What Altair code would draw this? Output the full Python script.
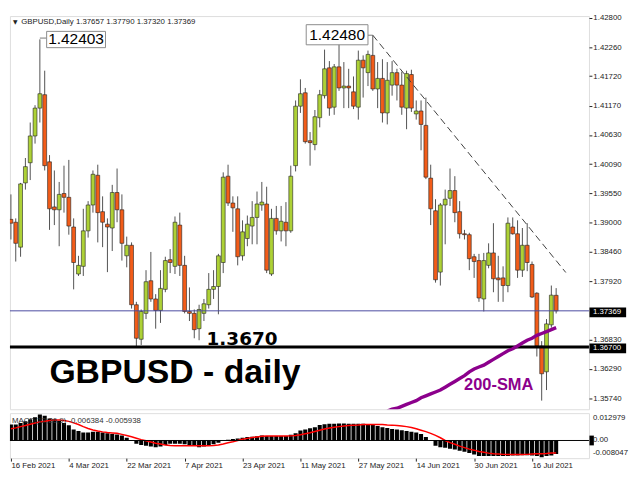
import altair as alt
import pandas as pd

# ---------------- data ----------------
opens = [
    1.39065, 1.39012, 1.38550, 1.39741, 1.40115, 1.40612, 1.41128, 1.41377, 1.40132, 1.39296,
    1.39243, 1.39545, 1.39474, 1.38923, 1.38052, 1.38194, 1.38852, 1.39332, 1.39883, 1.39208,
    1.38976, 1.38905, 1.39563, 1.39243, 1.38389, 1.38585, 1.37482, 1.36842, 1.37322, 1.37927,
    1.37589, 1.37376, 1.37767, 1.38318, 1.38194, 1.38959, 1.38212, 1.37358, 1.37322, 1.37038,
    1.37322, 1.37482, 1.37767, 1.37820, 1.38265, 1.39866, 1.39368, 1.39261, 1.38389, 1.38710,
    1.38941, 1.39101, 1.39332, 1.39350, 1.38052, 1.39083, 1.38852, 1.39012, 1.38852, 1.40061,
    1.41164, 1.41413, 1.40524, 1.40452, 1.40950, 1.41359, 1.41875, 1.41146, 1.41893, 1.41502,
    1.41537, 1.41430, 1.41146, 1.42017, 1.41786, 1.42106, 1.41484, 1.41679, 1.41039, 1.41555,
    1.41786, 1.41555, 1.41128, 1.41751, 1.41021, 1.41075, 1.40808, 1.39830, 1.39225, 1.38087,
    1.39332, 1.39456, 1.39599, 1.39208, 1.38798, 1.38781, 1.38372, 1.38301, 1.37589, 1.38212,
    1.38443, 1.37980, 1.37980, 1.37838, 1.38923, 1.38798, 1.38123, 1.38585, 1.38229, 1.37696,
    1.36718, 1.36238, 1.37109, 1.37657]
highs = [
    1.39528, 1.39083, 1.39741, 1.40203, 1.40861, 1.41182, 1.42403, 1.41822, 1.40257, 1.39972,
    1.39759, 1.40061, 1.40168, 1.39083, 1.38389, 1.39261, 1.39403, 1.39972, 1.40079, 1.39492,
    1.39083, 1.39705, 1.40008, 1.39528, 1.38745, 1.38638, 1.37536, 1.37394, 1.38123, 1.38461,
    1.37678, 1.38123, 1.38372, 1.38514, 1.39119, 1.39190, 1.38389, 1.37803, 1.37394, 1.37482,
    1.37589, 1.38069, 1.38123, 1.38425, 1.39937, 1.40079, 1.39492, 1.39492, 1.39047, 1.39136,
    1.39403, 1.39581, 1.39759, 1.39670, 1.39261, 1.39314, 1.39314, 1.39385, 1.40061, 1.41270,
    1.41662, 1.41502, 1.40684, 1.41093, 1.41466, 1.42213, 1.42000, 1.41946, 1.42320, 1.41982,
    1.41857, 1.41715, 1.42195, 1.42106, 1.42195, 1.42480, 1.41982, 1.42035, 1.41982, 1.42000,
    1.41857, 1.41804, 1.41822, 1.41840, 1.41270, 1.41270, 1.41324, 1.40079, 1.39439, 1.39368,
    1.39617, 1.40008, 1.39866, 1.39403, 1.38870, 1.38816, 1.38425, 1.38425, 1.38443, 1.38621,
    1.38994, 1.38389, 1.38194, 1.39101, 1.39101, 1.39047, 1.38905, 1.38994, 1.38283, 1.37714,
    1.36807, 1.37216, 1.37838, 1.37790]
lows = [
    1.38692, 1.38283, 1.38372, 1.39617, 1.39794, 1.40470, 1.40861, 1.39972, 1.38870, 1.38959,
    1.38567, 1.39190, 1.38781, 1.37767, 1.38016, 1.38016, 1.38727, 1.39190, 1.38638, 1.38550,
    1.38087, 1.38478, 1.39012, 1.38301, 1.38176, 1.37411, 1.36700, 1.36736, 1.37216, 1.37536,
    1.37038, 1.37145, 1.37714, 1.38069, 1.38052, 1.38016, 1.37322, 1.37180, 1.36860, 1.36824,
    1.37180, 1.37411, 1.37589, 1.37305, 1.38069, 1.39314, 1.38834, 1.38212, 1.38301, 1.38567,
    1.38603, 1.38603, 1.39225, 1.38069, 1.38016, 1.38781, 1.38656, 1.38567, 1.38816, 1.39954,
    1.41039, 1.40470, 1.40061, 1.40346, 1.40772, 1.41306, 1.40986, 1.41004, 1.41448, 1.41128,
    1.41128, 1.41110, 1.40915, 1.41324, 1.41537, 1.41448, 1.41128, 1.40861, 1.40826, 1.41359,
    1.41270, 1.41004, 1.40737, 1.41057, 1.40915, 1.40346, 1.39812, 1.38959, 1.37892, 1.37838,
    1.38603, 1.39314, 1.39012, 1.38710, 1.38692, 1.38123, 1.37980, 1.37536, 1.37358, 1.38158,
    1.37714, 1.37536, 1.37536, 1.37714, 1.38781, 1.37980, 1.37998, 1.38105, 1.37607, 1.36522,
    1.35704, 1.35900, 1.37056, 1.37320]
closes = [
    1.38994, 1.38621, 1.39723, 1.40043, 1.40612, 1.41128, 1.41395, 1.40061, 1.39261, 1.39243,
    1.39528, 1.39474, 1.38941, 1.38265, 1.38212, 1.38852, 1.39332, 1.39901, 1.39190, 1.39012,
    1.38923, 1.39563, 1.39243, 1.38621, 1.38585, 1.37482, 1.36860, 1.37358, 1.37909, 1.37589,
    1.37376, 1.37785, 1.38301, 1.38265, 1.39012, 1.38212, 1.37358, 1.37322, 1.37020, 1.37394,
    1.37500, 1.37767, 1.37820, 1.38389, 1.39848, 1.39368, 1.39279, 1.38372, 1.38834, 1.38976,
    1.39101, 1.39350, 1.39385, 1.38123, 1.39083, 1.38852, 1.39030, 1.38852, 1.39866, 1.41164,
    1.41395, 1.40506, 1.40488, 1.40968, 1.41377, 1.41857, 1.41128, 1.41893, 1.41502, 1.41537,
    1.41502, 1.41164, 1.42017, 1.41875, 1.42124, 1.41484, 1.41679, 1.41039, 1.41644, 1.41786,
    1.41555, 1.41146, 1.41768, 1.41128, 1.41075, 1.40826, 1.39848, 1.39261, 1.37945, 1.39332,
    1.39439, 1.39599, 1.39190, 1.38798, 1.38781, 1.38336, 1.38283, 1.37607, 1.38301, 1.38443,
    1.37963, 1.37945, 1.37838, 1.38994, 1.38798, 1.38123, 1.38585, 1.38265, 1.37625, 1.36718,
    1.36202, 1.37127, 1.37660, 1.37369]

sma_first_bar = 78
sma_values = [
    1.35509, 1.35544, 1.35562, 1.35598, 1.35633, 1.35669, 1.35704, 1.35757, 1.35793, 1.35828,
    1.35864, 1.35900, 1.35953, 1.36006, 1.36060, 1.36113, 1.36166, 1.36238, 1.36291, 1.36327,
    1.36362, 1.36416, 1.36469, 1.36522, 1.36576, 1.36629, 1.36665, 1.36718, 1.36771, 1.36824,
    1.36860, 1.36914, 1.36949, 1.36985, 1.37020, 1.37056]

macd_main = [
    0.0076, 0.0076, 0.0083, 0.0091, 0.0101, 0.0111, 0.0124, 0.0118, 0.0105, 0.0101,
    0.0094, 0.0083, 0.0073, 0.0052, 0.0045, 0.0038, 0.0038, 0.0041, 0.0041, 0.0038,
    0.0035, 0.0031, 0.0028, 0.0024, 0.0013, -0.0002, -0.0015, -0.0021, -0.0025, -0.0029,
    -0.0032, -0.0029, -0.0021, -0.0015, -0.0015, -0.0015, -0.0018, -0.0021, -0.0025, -0.0032,
    -0.0029, -0.0025, -0.0018, -0.0011, -0.0001, 0.0003, 0.0007, 0.0010, 0.0013, 0.0017,
    0.0018, 0.0020, 0.0024, 0.0021, 0.0021, 0.0021, 0.0021, 0.0021, 0.0027, 0.0035,
    0.0047, 0.0052, 0.0058, 0.0063, 0.0074, 0.0077, 0.0080, 0.0080, 0.0081, 0.0081,
    0.0080, 0.0080, 0.0080, 0.0080, 0.0078, 0.0077, 0.0069, 0.0063, 0.0059, 0.0055,
    0.0052, 0.0049, 0.0045, 0.0041, 0.0038, 0.0031, 0.0017, -0.0001, -0.0025, -0.0032,
    -0.0035, -0.0039, -0.0043, -0.0049, -0.0053, -0.0060, -0.0067, -0.0074, -0.0074, -0.0074,
    -0.0074, -0.0074, -0.0074, -0.0074, -0.0071, -0.0071, -0.0070, -0.0070, -0.0071, -0.0074,
    -0.0080, -0.0074, -0.0071, -0.0064]
macd_signal = [
    0.0056, 0.0060, 0.0066, 0.0071, 0.0077, 0.0083, 0.0088, 0.0092, 0.0095, 0.0097,
    0.0097, 0.0095, 0.0091, 0.0084, 0.0076, 0.0066, 0.0057, 0.0050, 0.0045, 0.0041,
    0.0038, 0.0036, 0.0034, 0.0029, 0.0024, 0.0018, 0.0011, 0.0004, -0.0001, -0.0007,
    -0.0013, -0.0017, -0.0021, -0.0024, -0.0025, -0.0025, -0.0025, -0.0025, -0.0025, -0.0025,
    -0.0025, -0.0025, -0.0024, -0.0021, -0.0017, -0.0011, -0.0006, 0.0000, 0.0006, 0.0010,
    0.0014, 0.0017, 0.0020, 0.0021, 0.0021, 0.0021, 0.0021, 0.0021, 0.0022, 0.0024,
    0.0027, 0.0032, 0.0037, 0.0043, 0.0049, 0.0055, 0.0059, 0.0063, 0.0066, 0.0069,
    0.0071, 0.0073, 0.0074, 0.0076, 0.0076, 0.0076, 0.0076, 0.0076, 0.0074, 0.0073,
    0.0071, 0.0069, 0.0066, 0.0062, 0.0056, 0.0049, 0.0042, 0.0034, 0.0024, 0.0013,
    0.0000, -0.0010, -0.0018, -0.0027, -0.0034, -0.0041, -0.0046, -0.0052, -0.0056, -0.0060,
    -0.0063, -0.0064, -0.0066, -0.0067, -0.0067, -0.0067, -0.0067, -0.0066, -0.0064, -0.0063,
    -0.0063, -0.0062, -0.0060, -0.0059]

date_tick_bars = [0, 12, 24, 36, 48, 60, 72, 84, 96, 108]
date_tick_labels = ["16 Feb 2021", "4 Mar 2021", "22 Mar 2021", "7 Apr 2021", "23 Apr 2021",
                    "11 May 2021", "27 May 2021", "14 Jun 2021", "30 Jun 2021", "16 Jul 2021"]
price_ticks = [1.42800, 1.42260, 1.41720, 1.41170, 1.40630, 1.40090, 1.39550, 1.39000,
               1.38460, 1.37920, 1.36830, 1.36290, 1.35740]
current_price = 1.37369
support_level = 1.36700
peak_labels = ["1.42403", "1.42480"]
peak_bars = [6, 75]
peak_prices = [1.42403, 1.42480]
trend_bars = [75, 115]
trend_prices = [1.42480, 1.38080]
macd_scale_labels = ["0.012979", "0.00", "-0.008047"]
macd_scale_values = [0.012979, 0.0, -0.008047]
header_text = "GBPUSD,Daily  1.37657 1.37790 1.37320 1.37369"
macd_header_text = "MACD(12,26,9) -0.006384 -0.005938"

# ---------------- layout / style ----------------
W, HM, HD = 592, 402, 46
FONT = "Liberation Sans"
xs = alt.Scale(domain=[-0.2, 119.8], nice=False, zero=False)
ys = alt.Scale(domain=[1.35544, 1.42835], nice=False, zero=False)
ms = alt.Scale(domain=[-0.0084, 0.0130], nice=False, zero=False)
UP, DOWN = "#ADD136", "#F25C19"
PURPLE = "#8C008C"

n = len(opens)
candles = pd.DataFrame({"i": list(range(n)), "open": opens, "high": highs,
                        "low": lows, "close": closes})
candles["dir"] = ["up" if c >= o else "down" for o, c in zip(opens, closes)]
candles["x1"] = candles["i"] - 0.4
candles["x2"] = candles["i"] + 0.4

sma_df = pd.DataFrame({"i": [sma_first_bar + k for k in range(len(sma_values))], "p": sma_values})
trend_df = pd.DataFrame({"i": trend_bars, "p": trend_prices})

yaxis = alt.Axis(orient="right", values=price_ticks, format=".5f", title=None, grid=False,
                 domain=False, tickSize=3, tickColor="#222", labelPadding=1,
                 labelFont=FONT, labelFontSize=8, labelColor="#222", labelOverlap=False)


def PY(field):
    return alt.Y(field, scale=ys, axis=yaxis, title=None)


def PX(field):
    return alt.X(field, scale=xs, axis=None, title=None)


wick = alt.Chart(candles).mark_rule(color="#505050", strokeWidth=1, clip=True).encode(
    x=PX("i:Q"), y=PY("low:Q"), y2="high:Q")
body = alt.Chart(candles).mark_rect(stroke="#1e1e1e", strokeWidth=0.6, clip=True).encode(
    x=PX("x1:Q"), x2="x2:Q", y=PY("open:Q"), y2="close:Q",
    color=alt.Color("dir:N", scale=alt.Scale(domain=["up", "down"], range=[UP, DOWN]), legend=None))

sma_line = alt.Chart(sma_df).mark_line(color=PURPLE, strokeWidth=3.5, clip=True).encode(
    x=PX("i:Q"), y=PY("p:Q"))
trend = alt.Chart(trend_df).mark_line(color="#3c3c3c", strokeWidth=1, strokeDash=[7, 4],
                                      clip=True).encode(x=PX("i:Q"), y=PY("p:Q"))

cur_line = alt.Chart(pd.DataFrame({"p": [current_price]})).mark_rule(
    color="#4848A0", strokeWidth=1).encode(y=PY("p:Q"), x=alt.value(0), x2=alt.value(W))
sup_line = alt.Chart(pd.DataFrame({"p": [support_level]})).mark_rule(
    color="black", strokeWidth=3).encode(y=PY("p:Q"), x=alt.value(0), x2=alt.value(W))

# peak label boxes (annotation geometry)
peaks = pd.DataFrame({
    "label": peak_labels, "bar": peak_bars, "p": peak_prices,
    "bx1": [7.4, 61.2], "bx2": [19.6, 74.0],
    "by1": [1.42551, 1.42675], "by2": [1.42249, 1.42302],
    "tx": [13.5, 67.6], "ty": [1.42400, 1.42489],
    "lx1": [6.0, 74.0], "lx2": [7.4, 75.0], "ly": [1.42427, 1.42480]})
peak_box = alt.Chart(peaks).mark_rect(fill="white", stroke="#8a8a8a", strokeWidth=1).encode(
    x=PX("bx1:Q"), x2="bx2:Q", y=PY("by1:Q"), y2="by2:Q")
peak_text = alt.Chart(peaks).mark_text(font=FONT, fontSize=15.8, color="black",
                                       baseline="middle", align="center").encode(
    x=PX("tx:Q"), y=PY("ty:Q"), text="label:N")
peak_lead = alt.Chart(peaks).mark_rule(color="#777", strokeWidth=1).encode(
    x=PX("lx1:Q"), x2="lx2:Q", y=PY("ly:Q"))

big_title = alt.Chart(pd.DataFrame({"t": ["GBPUSD - daily"], "i": [34.0], "p": [1.36024]})).mark_text(
    font=FONT, fontSize=34.5, fontWeight="bold", color="black", align="center",
    baseline="alphabetic").encode(x=PX("i:Q"), y=PY("p:Q"), text="t:N")
lvl_text = alt.Chart(pd.DataFrame({"t": ["1.3670"], "i": [47.9], "p": [1.36736]})).mark_text(
    font="DejaVu Sans", fontSize=18.8, fontWeight="bold", color="black", align="center",
    baseline="alphabetic").encode(x=PX("i:Q"), y=PY("p:Q"), text="t:N")
sma_text = alt.Chart(pd.DataFrame({"t": ["200-SMA"], "i": [101.1], "p": [1.35900]})).mark_text(
    font=FONT, fontSize=16.8, fontWeight="bold", color=PURPLE, align="center",
    baseline="alphabetic").encode(x=PX("i:Q"), y=PY("p:Q"), text="t:N")

side = pd.DataFrame({"p": [current_price, support_level],
                     "t": [f"{current_price:.5f}", f"{support_level:.5f}"]})
side_box = alt.Chart(side).mark_rule(color="black", strokeWidth=10, yOffset=1.5).encode(
    y=PY("p:Q"), x=alt.value(W + 0.5), x2=alt.value(W + 38))
side_txt = alt.Chart(side).mark_text(font=FONT, fontSize=8, color="white", align="left",
                                     baseline="middle", dy=1.5).encode(
    y=PY("p:Q"), x=alt.value(W + 4), text="t:N")

hdr = pd.DataFrame({"t": [header_text]})
hdr_tri = alt.Chart(hdr).mark_text(font="DejaVu Sans", fontSize=6, color="#222", text="▼",
                                   align="left", baseline="middle").encode(
    x=alt.value(3), y=alt.value(6))
hdr_txt = alt.Chart(hdr).mark_text(font=FONT, fontSize=8, color="#222", align="left",
                                   baseline="middle").encode(
    x=alt.value(11.5), y=alt.value(6), text="t:N")

main = alt.layer(wick, body, cur_line, sup_line, sma_line, trend, peak_lead, peak_box,
                 peak_text, big_title, lvl_text, sma_text, side_box, side_txt,
                 hdr_tri, hdr_txt).properties(width=W, height=HM)

# ---------------- MACD panel ----------------
macd = pd.DataFrame({"i": list(range(n)), "m": macd_main, "s": macd_signal})
macd["zero"] = 0.0
macd["x1"] = macd["i"] - 0.42
macd["x2"] = macd["i"] + 0.42

label_expr = ("[" + ",".join(f"'{s}'" for s in date_tick_labels) + "][indexof(["
              + ",".join(str(b) for b in date_tick_bars) + "], datum.value)]")
xaxis = alt.Axis(values=date_tick_bars, labelExpr=label_expr, title=None, grid=False,
                 domain=False, tickSize=3, tickColor="#222", labelAlign="left",
                 labelPadding=1, labelFont=FONT, labelFontSize=8, labelColor="#222",
                 labelOverlap=False, labelFlush=False)


def MX(field):
    return alt.X(field, scale=xs, axis=xaxis, title=None)


def MY(field):
    return alt.Y(field, scale=ms, axis=None, title=None)


hist = alt.Chart(macd).mark_rect(color="black", clip=True).encode(
    x=MX("x1:Q"), x2="x2:Q", y=MY("m:Q"), y2="zero:Q")
sig = alt.Chart(macd).mark_line(color="#FF0000", strokeWidth=1.5, clip=True).encode(
    x=MX("i:Q"), y=MY("s:Q"))
zero_line = alt.Chart(pd.DataFrame({"v": [0.0]})).mark_rule(color="black", strokeWidth=1).encode(
    y=MY("v:Q"), x=alt.value(0), x2=alt.value(W))

mlab = pd.DataFrame({"t": macd_scale_labels, "v": macd_scale_values})
mlab_top = alt.Chart(mlab.iloc[[0]]).mark_text(font=FONT, fontSize=8, color="#222", align="left",
                                               baseline="top", dy=1).encode(
    y=MY("v:Q"), x=alt.value(W + 4), text="t:N")
mlab_mid_box = alt.Chart(mlab.iloc[[1]]).mark_rule(color="black", strokeWidth=10).encode(
    y=MY("v:Q"), x=alt.value(W + 0.5), x2=alt.value(W + 5))
mlab_mid = alt.Chart(mlab.iloc[[1]]).mark_text(font=FONT, fontSize=8, color="#222", align="left",
                                               baseline="middle").encode(
    y=MY("v:Q"), x=alt.value(W + 4), text="t:N")
mlab_bot = alt.Chart(mlab.iloc[[2]]).mark_text(font=FONT, fontSize=8, color="#222", align="left",
                                               baseline="bottom").encode(
    y=MY("v:Q"), x=alt.value(W + 4), text="t:N")
macd_hdr = alt.Chart(pd.DataFrame({"t": [macd_header_text]})).mark_text(
    font=FONT, fontSize=8, color="#333", align="left", baseline="middle").encode(
    x=alt.value(2), y=alt.value(8), text="t:N")

macd_panel = alt.layer(hist, sig, zero_line, macd_hdr, mlab_top, mlab_mid_box, mlab_mid,
                       mlab_bot).properties(width=W, height=HD)

chart = alt.vconcat(main, macd_panel, spacing=2).properties(
    padding={"left": 0, "top": 0, "right": 0, "bottom": 0}
).configure_view(stroke="#4a4a4a", strokeWidth=1).configure(background="white")

chart.save("out.html", embed_options={"renderer": "svg", "actions": False})
